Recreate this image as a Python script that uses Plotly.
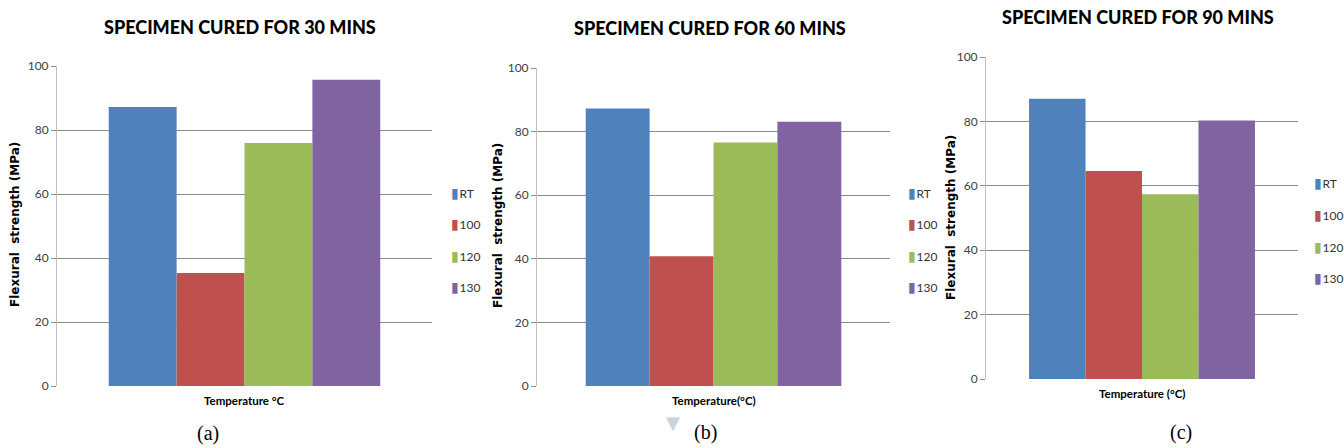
import plotly.graph_objects as go

W, H = 1344, 448

series = ["RT", "100", "120", "130"]
colors = ["#4F81BD", "#C0504D", "#9BBB59", "#8064A2"]

vals_30 = [87.2, 35.3, 75.9, 95.7]
vals_60 = [87.3, 40.8, 76.6, 83.1]
vals_90 = [87.0, 64.6, 57.4, 80.3]

titles = ["SPECIMEN CURED FOR 30 MINS", "SPECIMEN CURED FOR 60 MINS", "SPECIMEN CURED FOR 90 MINS"]
xtitles = ["Temperature °C", "Temperature(°C)", "Temperature (°C)"]
ytitle = "Flexural  strength (MPa)"
labels = ["(a)", "(b)", "(c)"]
yticks = [0, 20, 40, 60, 80, 100]

panel_vals = [vals_30, vals_60, vals_90]

# layout geometry in pixels: (x0, x1, ytop, ybottom)
geo = [(57, 432, 66, 386), (537, 890, 68, 386), (986, 1298, 57, 379)]
legend_pos = [(449, 192), (906, 192), (1312, 183)]
legend_step = 31.5
title_pos = [(240, 27), (710, 28), (1138, 17)]
xt_pos = [(244, 400), (714, 400), (1142, 393)]
yt_pos = [(15, 225), (498, 226), (951, 218)]
lab_pos = [(208, 433), (705, 432), (1181, 432)]

SANS = "Lato, Carlito, Calibri, sans-serif"

fig = go.Figure()
annotations = []
layout = {}

for i, vals in enumerate(panel_vals):
    n = "" if i == 0 else str(i + 1)
    xa, ya = "x" + n, "y" + n
    for s, v, c in zip(series, vals, colors):
        fig.add_trace(go.Bar(
            x=[""], y=[v], name=s, marker=dict(color=c, line=dict(width=0)),
            xaxis=xa, yaxis=ya, showlegend=False,
        ))
    x0, x1, yt, yb = geo[i]
    layout["xaxis" + n] = dict(
        domain=[x0 / W, x1 / W], anchor=ya, showticklabels=False, ticks="",
        showline=False, showgrid=False, zeroline=False, fixedrange=True,
        automargin=False,
    )
    layout["yaxis" + n] = dict(
        domain=[1 - yb / H, 1 - yt / H], anchor=xa, range=[0, 100],
        tickvals=yticks, ticks="outside", ticklen=5, tickcolor="#8C8C8C",
        showgrid=True, gridcolor="#8C8C8C", gridwidth=1,
        showline=True, linecolor="#BFBFBF", linewidth=1, zeroline=False,
        tickfont=dict(family=SANS, size=12, color="#404040"),
        automargin=False,
    )
    # legend built as text entries (one per series)
    lx, ly = legend_pos[i]
    for k, (s, c) in enumerate(zip(series, colors)):
        annotations.append(dict(
            text=f"<span style='color:{c};font-size:14px'>▮</span><span style='font-size:2px'> </span>{s}",
            x=lx / W, y=1 - (ly + k * legend_step) / H, xref="paper", yref="paper",
            showarrow=False, xanchor="left", yanchor="middle",
            font=dict(family=SANS, size=12, color="#333333"),
        ))
    tx, ty = title_pos[i]
    annotations.append(dict(
        text=titles[i], x=tx / W, y=1 - ty / H, xref="paper", yref="paper",
        showarrow=False, xanchor="center", yanchor="middle",
        font=dict(family=SANS, size=18, color="#000000", weight=900),
    ))
    ax, ay = xt_pos[i]
    annotations.append(dict(
        text=xtitles[i], x=ax / W, y=1 - ay / H, xref="paper", yref="paper",
        showarrow=False, xanchor="center", yanchor="middle",
        font=dict(family=SANS, size=11.5, color="#000000", weight="bold"),
    ))
    yx, yy = yt_pos[i]
    annotations.append(dict(
        text=ytitle, x=yx / W, y=1 - yy / H, xref="paper", yref="paper",
        showarrow=False, xanchor="center", yanchor="middle", textangle=-90,
        font=dict(family="DejaVu Sans, Verdana, sans-serif", size=12, color="#000000", weight="bold"),
    ))
    bx, by = lab_pos[i]
    annotations.append(dict(
        text=labels[i], x=bx / W, y=1 - by / H, xref="paper", yref="paper",
        showarrow=False, xanchor="center", yanchor="middle",
        font=dict(family="Liberation Serif, Times New Roman, serif", size=20, color="#000000"),
    ))

# small grey triangle artefact near label (b)
annotations.append(dict(
    text="▼", x=673 / W, y=1 - 422 / H, xref="paper", yref="paper",
    showarrow=False, xanchor="center", yanchor="middle",
    font=dict(family="DejaVu Sans", size=18, color="#CDD3D9"),
))

fig.update_layout(
    width=W, height=H, margin=dict(l=0, r=0, t=0, b=0, pad=0, autoexpand=False),
    paper_bgcolor="white", plot_bgcolor="white",
    barmode="group", bargap=0.276, bargroupgap=0,
    showlegend=False, annotations=annotations, **layout,
)

fig.write_html(
    "out.html",
    config={"displayModeBar": False},
    post_script="document.body.style.margin='0px';document.body.style.overflow='hidden';",
)
